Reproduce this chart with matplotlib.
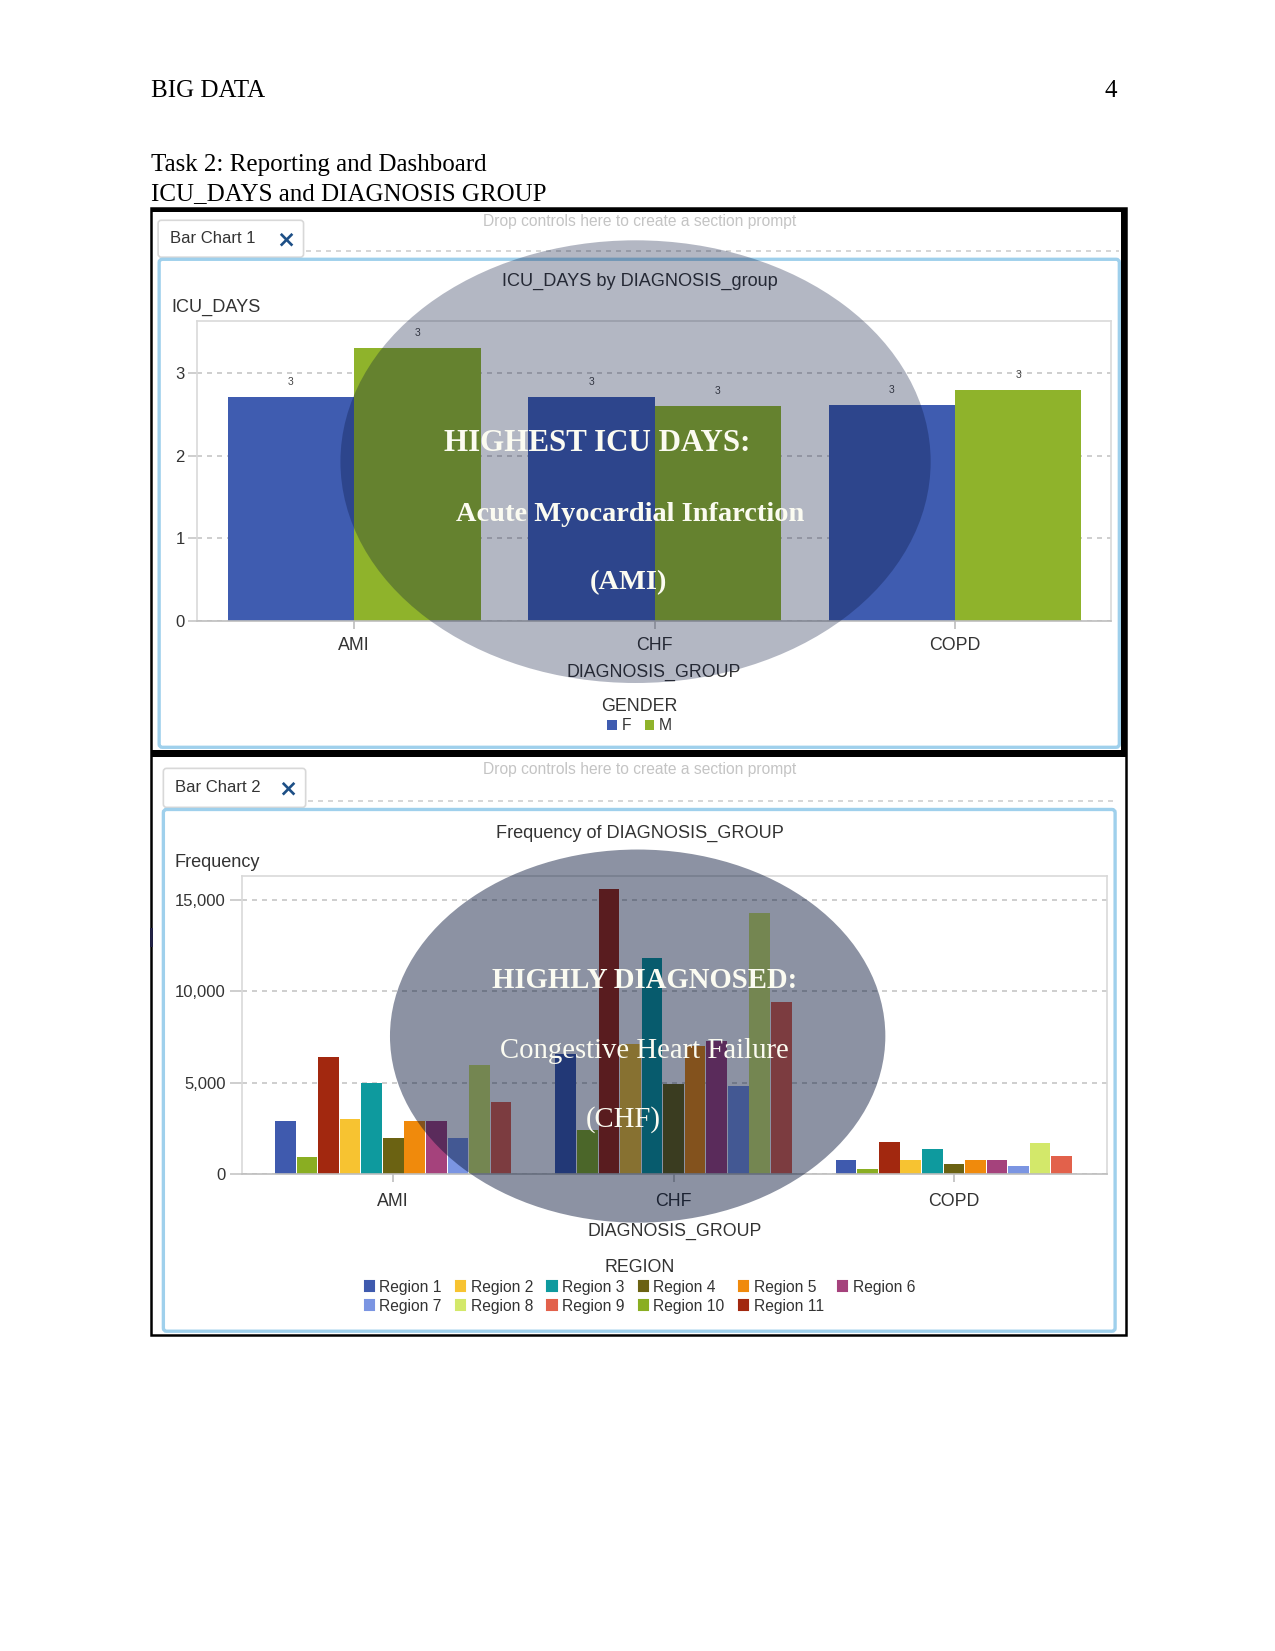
import matplotlib
matplotlib.use('Agg')
import matplotlib.pyplot as plt
from matplotlib.patches import Ellipse, Rectangle, FancyBboxPatch, Patch

# ---- data ----
diagnosis = ['AMI', 'CHF', 'COPD']
genders = ['F', 'M']
icu_f = [2.72, 2.71, 2.62]
icu_m = [3.31, 2.61, 2.80]

# bars are in alphabetical region order, as the tool draws them
region_order = ['Region 1', 'Region 10', 'Region 11', 'Region 2', 'Region 3', 'Region 4',
                'Region 5', 'Region 6', 'Region 7', 'Region 8', 'Region 9']
freq_ami = [2900, 950, 6400, 3000, 5000, 2000, 2900, 2900, 2000, 5950, 3950]
freq_chf = [6600, 2400, 15600, 7100, 11800, 4950, 7000, 7300, 4800, 14300, 9400]
freq_copd = [800, 260, 1760, 800, 1370, 570, 800, 800, 450, 1700, 1000]
legend_order = ['Region 1', 'Region 2', 'Region 3', 'Region 4', 'Region 5', 'Region 6',
                'Region 7', 'Region 8', 'Region 9', 'Region 10', 'Region 11']

gender_colors = {'F': '#3f5cb0', 'M': '#8fb32b'}
region_colors = {'Region 1': '#3f5aae', 'Region 2': '#f7c331', 'Region 3': '#0e9a9e',
                 'Region 4': '#6b6212', 'Region 5': '#f08a0c', 'Region 6': '#a5427c',
                 'Region 7': '#7b95e2', 'Region 8': '#d3e86a', 'Region 9': '#e2614b',
                 'Region 10': '#8aae22', 'Region 11': '#a2280f'}

SANS = ['Liberation Sans Narrow', 'Liberation Sans', 'DejaVu Sans']
SERIF = ['Liberation Serif', 'DejaVu Serif']
TXT = '#333333'
GRID = '#c6c6c6'

W, H = 1209.7, 1566.4   # layout units (scaled page pixels)


def rect(x0, y0, x1, y1):
    return [x0 / W, 1 - y1 / H, (x1 - x0) / W, (y1 - y0) / H]


fig = plt.figure(figsize=(8.5, 1651 / 150), dpi=150)
fig.patch.set_facecolor('white')

bg = fig.add_axes([0, 0, 1, 1], zorder=0)
bg.set_xlim(0, W)
bg.set_ylim(H, 0)
bg.axis('off')

# page text
bg.text(143, 86, 'BIG DATA', family=SERIF, fontsize=12, va='center', ha='left')
bg.text(1060, 86, '4', family=SERIF, fontsize=12, va='center', ha='right')
bg.text(143, 157, 'Task 2: Reporting and Dashboard', family=SERIF, fontsize=12, va='center')
bg.text(143, 184, 'ICU_DAYS and DIAGNOSIS GROUP', family=SERIF, fontsize=12, va='center')

# outer black frame
bg.add_patch(Rectangle((143, 197), 925, 1070, fill=False, ec='black', lw=1.2))
bg.add_patch(Rectangle((143, 197), 925, 4, fc='black', ec='none'))
bg.add_patch(Rectangle((1064, 197), 4, 521, fc='black', ec='none'))
bg.add_patch(Rectangle((143, 712), 925, 6, fc='black', ec='none'))
bg.add_patch(Rectangle((142, 880), 3, 18, fc='#222244', ec='none'))


def panel(tab_x0, tab_x1, tab_y0, tab_y1, title, prompt_y, dash_y, px0, py0, px1, py1):
    bg.add_patch(FancyBboxPatch((tab_x0, tab_y0), tab_x1 - tab_x0, tab_y1 - tab_y0,
                                boxstyle='round,pad=0,rounding_size=3',
                                fc='white', ec='#d8d8d8', lw=0.8))
    bg.text(tab_x0 + 11, (tab_y0 + tab_y1) / 2, title, family=SANS, fontsize=8,
            color=TXT, va='center')
    bg.text(tab_x1 - 17, (tab_y0 + tab_y1) / 2 + 1, '×', family='DejaVu Sans',
            fontsize=11, fontweight='bold', color='#1d4f86', va='center', ha='center')
    bg.text(607, prompt_y, 'Drop controls here to create a section prompt', family=SANS,
            fontsize=7.5, color='#c4c4c4', va='center', ha='center')
    bg.plot([tab_x1 + 2, px1], [dash_y, dash_y], ls=(0, (3, 3)), color='#cfcfcf', lw=0.8)
    bg.add_patch(FancyBboxPatch((px0, py0), px1 - px0, py1 - py0,
                                boxstyle='round,pad=0,rounding_size=3',
                                fill=False, ec='#9fd0ec', lw=1.6))


panel(150, 288, 209, 244, 'Bar Chart 1', 210, 238, 151, 246, 1062, 709)
panel(155, 290, 729, 766, 'Bar Chart 2', 730, 760, 155, 768, 1058, 1263)

bg.text(607, 267, 'ICU_DAYS by DIAGNOSIS_group', family=SANS, fontsize=8.7, color=TXT,
        ha='center', va='center')
bg.text(163, 292, 'ICU_DAYS', family=SANS, fontsize=8.7, color=TXT, va='center')
bg.text(607, 791, 'Frequency of DIAGNOSIS_GROUP', family=SANS, fontsize=8.7, color=TXT,
        ha='center', va='center')
bg.text(166, 818, 'Frequency', family=SANS, fontsize=8.7, color=TXT, va='center')


def style_axes(ax):
    for s in ax.spines.values():
        s.set_color('#d9d9d9')
        s.set_linewidth(0.8)
    ax.spines['bottom'].set_color('#bdbdbd')
    ax.set_axisbelow(True)
    ax.yaxis.grid(True, ls=(0, (3, 3)), color=GRID, lw=0.8)
    ax.tick_params(axis='y', length=4.5, color=GRID, labelsize=8, labelcolor=TXT, pad=1.5)
    ax.tick_params(axis='x', length=4, color='#bdbdbd', labelsize=8.5, labelcolor=TXT, pad=4)
    for lab in ax.get_xticklabels() + ax.get_yticklabels():
        lab.set_family(SANS)


# ---- chart 1 ----
ax1 = fig.add_axes(rect(187, 305, 1054, 589), zorder=1)
x = range(len(diagnosis))
bw = 0.421
bf = ax1.bar([i - bw / 2 for i in x], icu_f, bw, color=gender_colors['F'], label='F')
bm = ax1.bar([i + bw / 2 for i in x], icu_m, bw, color=gender_colors['M'], label='M')
for bars, vals in ((bf, icu_f), (bm, icu_m)):
    for b, v in zip(bars, vals):
        ax1.text(b.get_x() + b.get_width() / 2, v + 0.12, f'{v:.0f}', ha='center',
                 va='bottom', fontsize=5, color='#444444', family=SANS)
ax1.set_xlim(-0.523, 2.519)
ax1.set_ylim(0, 3.63)
ax1.set_yticks([0, 1, 2, 3])
ax1.set_xticks(list(x))
ax1.set_xticklabels(diagnosis)
style_axes(ax1)
ax1.set_xlabel('DIAGNOSIS_GROUP', family=SANS, fontsize=8.5, color=TXT, labelpad=4.5)
leg1 = ax1.legend(title='GENDER', loc='upper center', ncol=2, frameon=False,
                  bbox_to_anchor=(607 / W, 1 - 655 / H), bbox_transform=fig.transFigure,
                  handlelength=0.6, handleheight=0.6, handletextpad=0.3, columnspacing=0.9,
                  labelspacing=0.2, prop={'family': SANS, 'size': 7.5}, borderpad=0)
leg1.get_title().set_fontfamily(SANS)
leg1.get_title().set_fontsize(8.5)
leg1.get_title().set_color(TXT)
for t in leg1.get_texts():
    t.set_color(TXT)

# ---- chart 2 ----
ax2 = fig.add_axes(rect(230, 831, 1050, 1114), zorder=1)
bw2 = 0.0769
n = len(region_order)
for k, reg in enumerate(region_order):
    vals = [freq_ami[k], freq_chf[k], freq_copd[k]]
    off = (k - (n - 1) / 2) * bw2
    ax2.bar([i + off for i in x], vals, bw2 * 0.96, color=region_colors[reg], label=reg)
ax2.set_xlim(-0.538, 2.545)
ax2.set_ylim(0, 16320)
ax2.set_yticks([0, 5000, 10000, 15000])
ax2.set_yticklabels(['0', '5,000', '10,000', '15,000'])
ax2.set_xticks(list(x))
ax2.set_xticklabels(diagnosis)
style_axes(ax2)
ax2.tick_params(axis='y', length=6, pad=2)
ax2.tick_params(axis='x', pad=5)
ax2.set_xlabel('DIAGNOSIS_GROUP', family=SANS, fontsize=8.5, color=TXT, labelpad=6)
# row-wise legend: reorder for column-major filling
leg_items = []
for c in range(6):
    leg_items.append(legend_order[c])
    if c + 6 < len(legend_order):
        leg_items.append(legend_order[c + 6])
leg2 = ax2.legend([Patch(color=region_colors[r]) for r in leg_items], leg_items,
                  title='REGION', loc='upper center', ncol=6, frameon=False,
                  bbox_to_anchor=(607 / W, 1 - 1187 / H), bbox_transform=fig.transFigure,
                  handlelength=0.6, handleheight=0.6, handletextpad=0.35,
                  columnspacing=0.9, labelspacing=0.25,
                  prop={'family': SANS, 'size': 7.5}, borderpad=0)
leg2.get_title().set_fontfamily(SANS)
leg2.get_title().set_fontsize(8.5)
leg2.get_title().set_color(TXT)
for t in leg2.get_texts():
    t.set_color(TXT)

# ---- callout ellipses on top ----
ov = fig.add_axes([0, 0, 1, 1], zorder=10)
ov.set_xlim(0, W)
ov.set_ylim(H, 0)
ov.axis('off')
ov.patch.set_alpha(0)
ov.add_patch(Ellipse((603, 438), 560, 420, fc=(5 / 255, 18 / 255, 58 / 255), alpha=0.3, ec='none'))
ov.add_patch(Ellipse((605, 983), 470, 354, fc=(0, 15 / 255, 51 / 255), alpha=0.45, ec='none'))
cream = '#fbfbf1'
ov.text(567, 421, 'HIGHEST ICU DAYS:', family=SERIF, fontweight='bold', fontsize=14.9,
        color=cream, ha='center', va='center')
ov.text(598, 488, 'Acute Myocardial Infarction', family=SERIF, fontweight='bold', fontsize=13.6,
        color=cream, ha='center', va='center')
ov.text(596, 553, '(AMI)', family=SERIF, fontweight='bold', fontsize=13.6,
        color=cream, ha='center', va='center')
ov.text(612, 930, 'HIGHLY DIAGNOSED:', family=SERIF, fontweight='bold', fontsize=13.8,
        color=cream, ha='center', va='center')
ov.text(611, 997, 'Congestive Heart Failure', family=SERIF, fontsize=13.8,
        color=cream, ha='center', va='center')
ov.text(591, 1062, '(CHF)', family=SERIF, fontsize=13.8,
        color=cream, ha='center', va='center')

fig.savefig('out.png', dpi=150)
